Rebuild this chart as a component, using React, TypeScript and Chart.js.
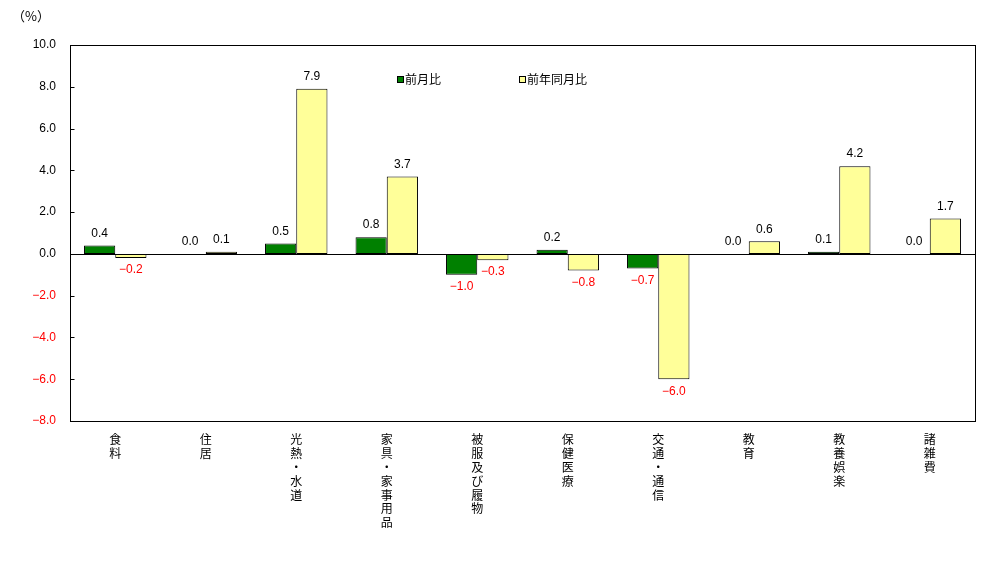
import React, { useEffect, useRef } from "react";
import { Chart, registerables } from "chart.js";

Chart.register(...registerables);

const categories: string[][] = [
  ["食", "料"],
  ["住", "居"],
  ["光", "熱", "・", "水", "道"],
  ["家", "具", "・", "家", "事", "用", "品"],
  ["被", "服", "及", "び", "履", "物"],
  ["保", "健", "医", "療"],
  ["交", "通", "・", "通", "信"],
  ["教", "育"],
  ["教", "養", "娯", "楽"],
  ["諸", "雑", "費"],
];
const momValues = [0.4, 0.0, 0.5, 0.8, -1.0, 0.2, -0.7, 0.0, 0.1, 0.0];
const yoyValues = [-0.2, 0.1, 7.9, 3.7, -0.3, -0.8, -6.0, 0.6, 4.2, 1.7];
const seriesNames = ["前月比", "前年同月比"];
const unitLabel = "（%）";

const GREEN = "#008000";
const YELLOW = "#FFFF99";
const FONT = '"Liberation Sans", "Noto Sans CJK JP", sans-serif';
const CJK_FONT = '"Noto Sans CJK JP", sans-serif';

function fmt(v: number): string {
  const s = Math.abs(v).toFixed(1);
  return v < 0 ? "−" + s : s;
}

const decorPlugin = {
  id: "decor",
  beforeDatasetsDraw(chart: any) {
    const { ctx, chartArea, scales } = chart;
    const y0 = Math.round(scales.y.getPixelForValue(0)) + 0.5;
    ctx.save();
    ctx.strokeStyle = "#000";
    ctx.lineWidth = 1;
    ctx.beginPath();
    ctx.moveTo(chartArea.left, y0);
    ctx.lineTo(chartArea.right, y0);
    ctx.stroke();
    ctx.restore();
  },
  afterDraw(chart: any) {
    const { ctx, chartArea, scales } = chart;
    ctx.save();
    ctx.strokeStyle = "#000";
    ctx.lineWidth = 1;
    const l = Math.round(chartArea.left) + 0.5;
    const t = Math.round(chartArea.top) + 0.5;
    const r = Math.round(chartArea.right) + 0.5;
    const b = Math.round(chartArea.bottom) + 0.5;
    ctx.strokeRect(l, t, r - l, b - t);
    const y0 = Math.round(scales.y.getPixelForValue(0)) + 0.5;
    ctx.beginPath();
    ctx.moveTo(l, y0);
    ctx.lineTo(r, y0);
    ctx.stroke();
    scales.y.ticks.forEach((tk: any) => {
      const py = Math.round(scales.y.getPixelForValue(tk.value)) + 0.5;
      ctx.beginPath();
      ctx.moveTo(l, py);
      ctx.lineTo(l + 4, py);
      ctx.stroke();
    });
    ctx.font = "12px " + FONT;
    ctx.textAlign = "center";
    ctx.textBaseline = "middle";
    chart.data.datasets.forEach((ds: any, di: number) => {
      const meta = chart.getDatasetMeta(di);
      meta.data.forEach((el: any, i: number) => {
        const v = ds.data[i] as number;
        const yEnd = scales.y.getPixelForValue(v);
        if (v < 0) {
          ctx.fillStyle = "#FF0000";
          ctx.fillText(fmt(v), el.x, yEnd + 12);
        } else {
          ctx.fillStyle = "#000";
          ctx.fillText(fmt(v), el.x, yEnd - 12);
        }
      });
    });
    const items = [
      { x: 397, color: GREEN, text: seriesNames[0] },
      { x: 519, color: YELLOW, text: seriesNames[1] },
    ];
    ctx.font = "12px " + CJK_FONT;
    ctx.textAlign = "left";
    items.forEach((it) => {
      ctx.fillStyle = it.color;
      ctx.fillRect(it.x, 76, 6, 6);
      ctx.strokeStyle = "#000";
      ctx.strokeRect(it.x + 0.5, 76.5, 6, 6);
      ctx.fillStyle = "#000";
      ctx.fillText(it.text, it.x + 8, 79.5);
    });
    ctx.font = "13px " + CJK_FONT;
    ctx.fillText(unitLabel, 12, 16);
    ctx.restore();
  },
};

export default function App() {
  const ref = useRef<HTMLCanvasElement | null>(null);
  useEffect(() => {
    document.body.style.margin = "0";
    const canvas = ref.current!;
    const chart = new Chart(canvas, {
      type: "bar",
      data: {
        labels: categories,
        datasets: [
          {
            label: seriesNames[0],
            data: momValues,
            backgroundColor: GREEN,
            borderColor: "#000",
            borderWidth: 1,
            borderSkipped: false,
          },
          {
            label: seriesNames[1],
            data: yoyValues,
            backgroundColor: YELLOW,
            borderColor: "#000",
            borderWidth: 1,
            borderSkipped: false,
          },
        ],
      },
      options: {
        animation: false,
        responsive: false,
        maintainAspectRatio: false,
        layout: { padding: { top: 45, right: 8, left: 0, bottom: 0 } },
        plugins: {
          legend: { display: false },
          tooltip: { enabled: false },
        },
        datasets: {
          bar: { categoryPercentage: 0.69, barPercentage: 1.0 },
        },
        scales: {
          x: {
            grid: { display: false },
            border: { display: false },
            ticks: {
              font: { family: CJK_FONT, size: 12, lineHeight: 1.15 },
              color: "#000",
              padding: 4,
              maxRotation: 0,
              autoSkip: false,
            },
            afterFit(scale: any) {
              scale.height = 140;
            },
          },
          y: {
            min: -8,
            max: 10,
            grid: { display: false },
            border: { display: false },
            ticks: {
              stepSize: 2,
              font: { family: FONT, size: 12 },
              padding: 6,
              color: (c: any) => (c.tick && c.tick.value < 0 ? "#FF0000" : "#000"),
              callback: (v: any) => fmt(Number(v)),
            },
            afterFit(scale: any) {
              scale.width = 70;
            },
          },
        },
      },
      plugins: [decorPlugin],
    } as any);
    return () => chart.destroy();
  }, []);
  return (
    <div style={{ width: 983, height: 561 }}>
      <canvas ref={ref} width={983} height={561} style={{ width: 983, height: 561, display: "block" }} />
    </div>
  );
}
